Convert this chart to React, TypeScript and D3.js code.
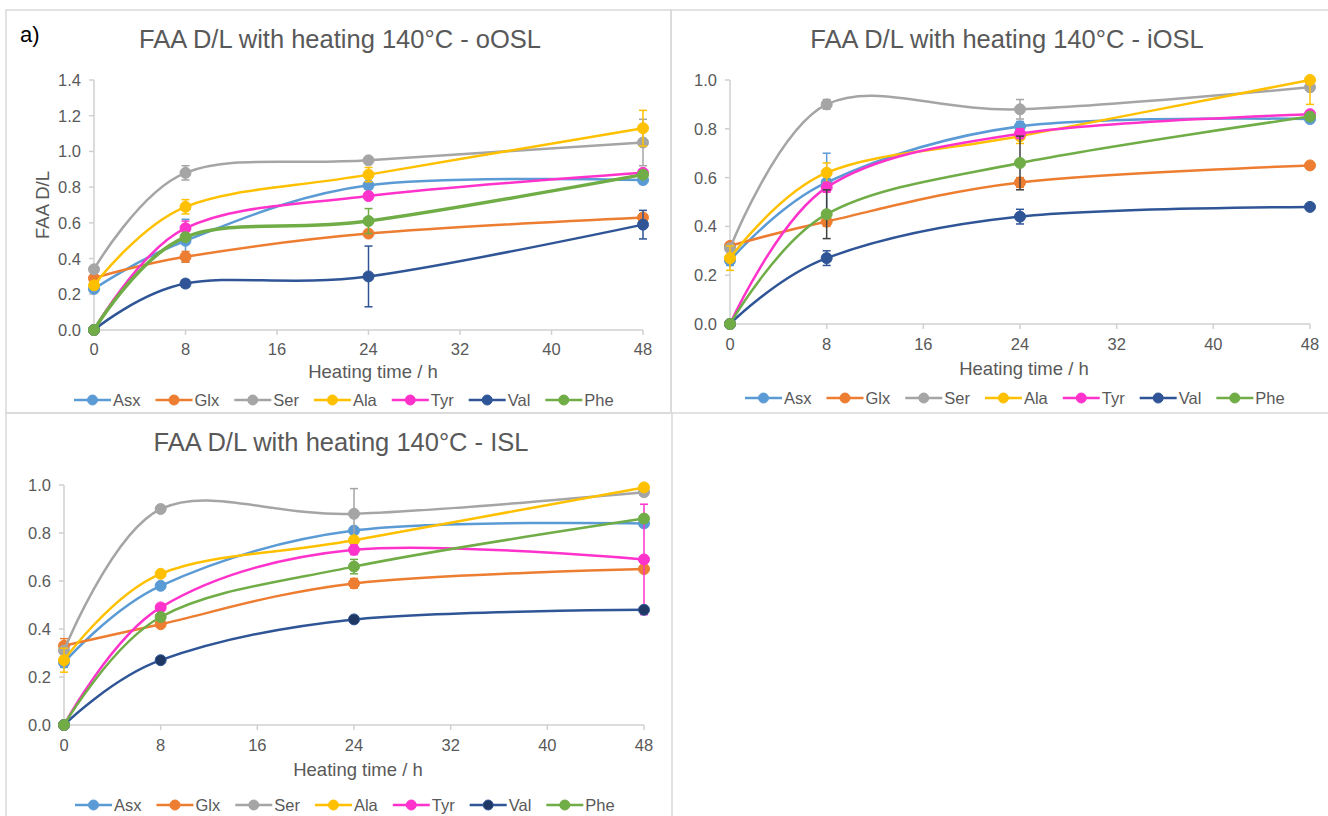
import React from 'react';
import * as d3 from 'd3';

const hours = [0, 8, 24, 48];
const xTicks = [0, 8, 16, 24, 32, 40, 48];
const seriesNames = ['Asx', 'Glx', 'Ser', 'Ala', 'Tyr', 'Val', 'Phe'];
const seriesColors = ['#5b9bd5', '#ed7d31', '#a5a5a5', '#ffc000', '#ff33cc', '#2f5597', '#70ad47'];

// FAA D/L values, one row per series (order of seriesNames), columns = hours
const oOslValues = [
  [0.23, 0.50, 0.81, 0.84],
  [0.29, 0.41, 0.54, 0.63],
  [0.34, 0.88, 0.95, 1.05],
  [0.25, 0.69, 0.87, 1.13],
  [0.00, 0.57, 0.75, 0.88],
  [0.00, 0.26, 0.30, 0.59],
  [0.00, 0.52, 0.61, 0.87],
];
const oOslErrors = [
  [0.02, 0.12, 0.02, 0.02],
  [0.01, 0.03, 0.01, 0.01],
  [0.02, 0.04, 0.01, 0.13],
  [0.02, 0.04, 0.04, 0.10],
  [0.00, 0.04, 0.02, 0.01],
  [0.00, 0.02, 0.17, 0.08],
  [0.00, 0.02, 0.07, 0.01],
];

const iOslValues = [
  [0.26, 0.58, 0.81, 0.84],
  [0.32, 0.42, 0.58, 0.65],
  [0.31, 0.90, 0.88, 0.97],
  [0.27, 0.62, 0.77, 1.00],
  [0.00, 0.56, 0.78, 0.86],
  [0.00, 0.27, 0.44, 0.48],
  [0.00, 0.45, 0.66, 0.85],
];
const iOslErrors = [
  [0.02, 0.12, 0.02, 0.01],
  [0.01, 0.02, 0.02, 0.01],
  [0.01, 0.02, 0.04, 0.01],
  [0.05, 0.04, 0.03, 0.10],
  [0.00, 0.02, 0.02, 0.01],
  [0.00, 0.03, 0.03, 0.01],
  [0.00, 0.10, 0.11, 0.01],
];

const islValues = [
  [0.26, 0.58, 0.81, 0.84],
  [0.33, 0.42, 0.59, 0.65],
  [0.31, 0.90, 0.88, 0.97],
  [0.27, 0.63, 0.77, 0.99],
  [0.00, 0.49, 0.73, 0.69],
  [0.00, 0.27, 0.44, 0.48],
  [0.00, 0.45, 0.66, 0.86],
];
const islErrors = [
  [0.02, 0.01, 0.01, 0.01],
  [0.03, 0.01, 0.02, 0.01],
  [0.01, 0.01, 0.105, 0.01],
  [0.05, 0.01, 0.01, 0.01],
  [0.00, 0.01, 0.02, 0.23],
  [0.00, 0.01, 0.01, 0.01],
  [0.00, 0.01, 0.03, 0.01],
];

const FONT = "'Liberation Sans', Arial, sans-serif";
const TEXT = '#595959';
const AXIS = '#d0d0d0';

function measure(text: string, size: number) {
  const c = document.createElement('canvas').getContext('2d');
  if (!c) return text.length * size * 0.5;
  c.font = `${size}px 'Liberation Sans'`;
  return c.measureText(text).width;
}

type Cfg = {
  id: string;
  title: string;
  values: number[][];
  errors: number[][];
  yMax: number;
  left: number; right: number; top: number; bottom: number;
  titleX: number; titleY: number;
  xTitleX: number; xTitleY: number;
  tickLabelY: number;
  legendX: number; legendY: number;
  yTitle?: boolean;
  valMarker?: string;
  pheWidth?: number;
  pheErrColor?: string;
};

function Panel({ cfg }: { cfg: Cfg }) {
  const x = d3.scaleLinear().domain([0, 48]).range([cfg.left, cfg.right]);
  const y = d3.scaleLinear().domain([0, cfg.yMax]).range([cfg.bottom, cfg.top]);
  const line = d3.line<number>()
    .x((_, i) => x(hours[i]))
    .y((d) => y(d))
    .curve(d3.curveCardinal.tension(0));
  const yTicks = d3.range(0, cfg.yMax + 1e-6, 0.2);
  const fmt = d3.format('.1f');
  const legendSize = 16.5;
  let lx = cfg.legendX;
  const legendItems = seriesNames.map((name, i) => {
    const start = lx;
    const w = measure(name, legendSize);
    lx += 37 + 2 + w + 15;
    return { name, i, start };
  });
  const clipId = `clip-${cfg.id}`;
  return (
    <g>
      <defs>
        <clipPath id={clipId}>
          <rect x={cfg.left - 20} y={cfg.top} width={cfg.right - cfg.left + 40} height={cfg.bottom - cfg.top + 20} />
        </clipPath>
      </defs>
      <text x={cfg.titleX} y={cfg.titleY} textAnchor="middle" fontFamily={FONT} fontSize={25.5} fill={TEXT}>{cfg.title}</text>
      {/* axes */}
      <line x1={cfg.left} x2={cfg.left} y1={cfg.top} y2={cfg.bottom} stroke={AXIS} strokeWidth={1.5} />
      <line x1={cfg.left} x2={cfg.right} y1={cfg.bottom} y2={cfg.bottom} stroke={AXIS} strokeWidth={1.5} />
      {yTicks.map((t) => (
        <g key={`y${t}`}>
          <line x1={cfg.left - 5} x2={cfg.left} y1={y(t)} y2={y(t)} stroke={AXIS} strokeWidth={1.5} />
          <text x={cfg.left - 13} y={y(t)} dy="0.36em" textAnchor="end" fontFamily={FONT} fontSize={16.5} fill={TEXT}>{fmt(t)}</text>
        </g>
      ))}
      {xTicks.map((t) => (
        <g key={`x${t}`}>
          <line x1={x(t)} x2={x(t)} y1={cfg.bottom} y2={cfg.bottom + 5} stroke={AXIS} strokeWidth={1.5} />
          <text x={x(t)} y={cfg.tickLabelY} dy="0.36em" textAnchor="middle" fontFamily={FONT} fontSize={16.5} fill={TEXT}>{t}</text>
        </g>
      ))}
      <text x={cfg.xTitleX} y={cfg.xTitleY} dy="0.36em" textAnchor="middle" fontFamily={FONT} fontSize={18.5} fill={TEXT}>Heating time / h</text>
      {cfg.yTitle && (
        <text transform={`translate(42,${(cfg.top + cfg.bottom) / 2}) rotate(-90)`} dy="0.36em" textAnchor="middle" fontFamily={FONT} fontSize={18.5} fill={TEXT}>FAA D/L</text>
      )}
      {/* series */}
      {cfg.values.map((vals, si) => {
        const color = seriesColors[si];
        const isPhe = seriesNames[si] === 'Phe';
        const isVal = seriesNames[si] === 'Val';
        const errColor = isPhe && cfg.pheErrColor ? cfg.pheErrColor : color;
        const markerFill = isVal && cfg.valMarker ? cfg.valMarker : color;
        return (
          <g key={si}>
            <path d={line(vals) || ''} fill="none" stroke={color} strokeWidth={isPhe && cfg.pheWidth ? cfg.pheWidth : 2.5} strokeLinecap="round" />
            <g clipPath={`url(#${clipId})`}>
              {vals.map((v, i) => {
                const e = cfg.errors[si][i];
                if (!e) return null;
                const cx = x(hours[i]);
                return (
                  <g key={i} stroke={errColor} strokeWidth={1.5}>
                    <line x1={cx} x2={cx} y1={y(v - e)} y2={y(v + e)} />
                    <line x1={cx - 4} x2={cx + 4} y1={y(v - e)} y2={y(v - e)} />
                    <line x1={cx - 4} x2={cx + 4} y1={y(v + e)} y2={y(v + e)} />
                  </g>
                );
              })}
            </g>
            {vals.map((v, i) => (
              <circle key={i} cx={x(hours[i])} cy={y(v)} r={5.5} fill={markerFill} stroke={color} strokeWidth={1} />
            ))}
          </g>
        );
      })}
      {/* legend */}
      {legendItems.map(({ name, i, start }) => (
        <g key={name}>
          <line x1={start} x2={start + 37} y1={cfg.legendY} y2={cfg.legendY} stroke={seriesColors[i]} strokeWidth={2.5} />
          <circle cx={start + 18.5} cy={cfg.legendY} r={5} fill={name === 'Val' && cfg.valMarker ? cfg.valMarker : seriesColors[i]} stroke={seriesColors[i]} strokeWidth={1} />
          <text x={start + 39} y={cfg.legendY} dy="0.36em" fontFamily={FONT} fontSize={legendSize} fill={TEXT}>{name}</text>
        </g>
      ))}
    </g>
  );
}

const panels: Cfg[] = [
  {
    id: 'o', title: 'FAA D/L with heating 140°C - oOSL', values: oOslValues, errors: oOslErrors, yMax: 1.4,
    left: 94, right: 643, top: 80, bottom: 330, titleX: 340, titleY: 48,
    xTitleX: 373, xTitleY: 371, tickLabelY: 349, legendX: 74, legendY: 400, yTitle: true, pheWidth: 3.5,
  },
  {
    id: 'i', title: 'FAA D/L with heating 140°C - iOSL', values: iOslValues, errors: iOslErrors, yMax: 1.0,
    left: 730, right: 1310, top: 80, bottom: 324, titleX: 1007, titleY: 48,
    xTitleX: 1024, xTitleY: 368, tickLabelY: 344, legendX: 745, legendY: 398, pheErrColor: '#404040',
  },
  {
    id: 's', title: 'FAA D/L with heating 140°C - ISL', values: islValues, errors: islErrors, yMax: 1.0,
    left: 64, right: 644, top: 485, bottom: 725, titleX: 341, titleY: 451,
    xTitleX: 358, xTitleY: 769, tickLabelY: 745, legendX: 75, legendY: 805, valMarker: '#1f3864',
  },
];

export default function App() {
  return (
    <svg width={1328} height={816} style={{ position: 'absolute', left: 0, top: 0, background: '#fff' }}>
      <rect x={0} y={0} width={1328} height={816} fill="#fff" />
      <g fill="none" stroke="#d9d9d9" strokeWidth={1.5}>
        <rect x={6} y={10} width={665} height={403} />
        <rect x={671} y={10} width={670} height={403} />
        <rect x={6} y={413} width={666} height={420} />
      </g>
      <text x={20} y={42} fontFamily={FONT} fontSize={22} fill="#000">a)</text>
      {panels.map((p) => <Panel key={p.id} cfg={p} />)}
    </svg>
  );
}
